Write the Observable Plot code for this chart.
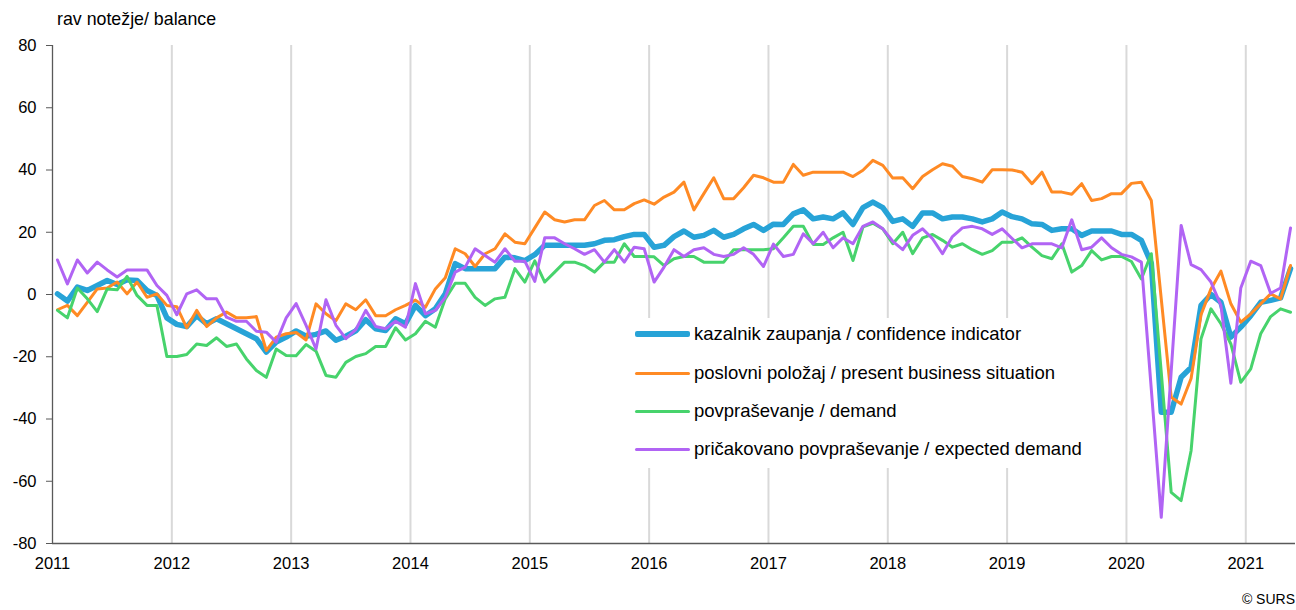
<!DOCTYPE html>
<html>
<head>
<meta charset="utf-8">
<script src="https://cdn.jsdelivr.net/npm/d3@7"></script>
<script src="https://cdn.jsdelivr.net/npm/@observablehq/plot@0.6"></script>
<style>
  body { margin: 0; background: #fff; font-family: "Liberation Sans", Arial, sans-serif; }
  #wrap { position: relative; width: 1296px; height: 610px; overflow: hidden; }
  #chart { position: absolute; left: 0; top: 0; }
  #ylab { position: absolute; left: 57px; top: 9px; font-size: 17.8px; color: #000; white-space: nowrap; }
  #credit { position: absolute; right: 1px; top: 591px; font-size: 14px; color: #000; }
  #legend { position: absolute; left: 628px; top: 318px; width: 466px; height: 150px; background: #fff; }
  .item { position: absolute; left: 0; height: 20px; white-space: nowrap; font-size: 18.5px; color: #000; }
  .sw { position: absolute; left: 7px; width: 55px; border-radius: 2px; }
  .lt { position: absolute; left: 66px; top: 0; line-height: 20px; }
</style>
</head>
<body>
<div id="wrap">
  <div id="chart"></div>
  <div id="ylab">rav notežje/ balance</div>
  <div id="legend"></div>
  <div id="credit">© SURS</div>
</div>
<script>
// ---- data (monthly, Jan 2011 – May 2021) ----
const years = [2011, 2012, 2013, 2014, 2015, 2016, 2017, 2018, 2019, 2020, 2021];
const yTicks = [-80, -60, -40, -20, 0, 20, 40, 60, 80];
const seriesNames = [
  "kazalnik zaupanja / confidence indicator",
  "poslovni položaj / present business situation",
  "povpraševanje / demand",
  "pričakovano povpraševanje / expected demand"
];
const seriesColors = ["#27A3D7", "#FF8A24", "#47D36C", "#B164F4"];

const confidence = [
  0.2, -2.1, 2.4, 1.3, 2.9, 4.5, 3.2, 4.7, 4.5, 1.3, -0.3, -7.5,
  -9.6, -10.3, -6.8, -9.4, -7.8, -9.4, -11.0, -12.6, -14.2, -18.5, -15.3, -13.7,
  -11.7, -13.4, -12.8, -11.7, -14.7, -13.4, -11.7, -8.1, -11.0, -11.6, -7.8, -9.4,
  -3.5, -6.8, -4.6, 0.2, 9.9, 8.3, 8.3, 8.3, 8.3, 12.0, 11.8, 10.9,
  12.8, 15.8, 15.8, 15.8, 15.8, 15.8, 16.3, 17.4, 17.6, 18.6, 19.3, 19.3,
  15.2, 15.8, 18.6, 20.4, 18.4, 19.0, 20.6, 18.4, 19.3, 21.1, 22.5, 20.6,
  22.6, 22.5, 25.9, 27.2, 24.3, 24.9, 24.3, 26.2, 22.5, 27.9, 29.7, 27.9,
  23.5, 24.3, 21.9, 26.2, 26.2, 24.3, 24.9, 24.9, 24.3, 23.3, 24.3, 26.5,
  25.0, 24.3, 22.7, 22.5, 20.6, 21.1, 21.1, 19.0, 20.4, 20.4, 20.4, 19.3,
  19.3, 17.4, 10.0, -37.8, -37.8, -26.6, -23.4, -3.5, 0.0, -2.5, -13.7, -10.5,
  -6.8, -2.5, -1.9, -1.1, 8.3
];
const business = [
  -4.9, -3.5, -6.8, -2.5, 1.8, 2.1, 4.0, 0.2, 4.0, -0.9, 0.2, -3.5,
  -3.9, -10.7, -5.1, -10.3, -7.5, -5.6, -7.5, -7.5, -7.1, -18.0, -13.7, -12.6,
  -12.2, -14.6, -3.0, -6.2, -8.4, -3.0, -4.9, -1.7, -6.8, -6.8, -4.9, -3.5,
  -1.8, -4.1, 1.8, 5.4, 14.7, 13.1, 9.0, 13.1, 14.7, 19.5, 16.8, 16.3,
  21.4, 26.5, 24.0, 23.3, 24.0, 24.0, 28.6, 30.2, 27.2, 27.2, 29.2, 30.4,
  29.0, 31.3, 32.9, 36.1, 27.2, 32.4, 37.5, 30.8, 30.8, 34.3, 38.3, 37.5,
  36.1, 36.1, 41.8, 38.3, 39.3, 39.3, 39.3, 39.3, 37.9, 39.9, 43.1, 41.5,
  37.4, 37.5, 34.0, 37.9, 40.1, 42.0, 41.2, 37.9, 37.2, 36.1, 40.1, 40.1,
  40.0, 39.3, 35.6, 39.3, 32.9, 32.9, 32.2, 35.6, 30.2, 30.8, 32.4, 32.4,
  35.7, 36.1, 30.2, -1.4, -33.0, -35.2, -27.0, -6.5, 1.8, 7.5, -3.0, -8.9,
  -6.2, -3.0, 0.2, -1.4, 9.3
];
const demand = [
  -5.1, -7.5, 2.1, -1.4, -5.5, 1.8, 1.5, 5.8, -0.3, -3.5, -3.5, -19.9,
  -19.9, -19.3, -15.9, -16.4, -13.9, -16.7, -15.9, -20.7, -24.4, -26.6, -17.5, -19.6,
  -19.7, -16.1, -18.2, -26.0, -26.6, -21.8, -19.9, -19.0, -16.7, -16.7, -10.7, -14.6,
  -12.6, -8.6, -10.5, -1.4, 3.6, 3.6, -0.9, -3.5, -1.4, -0.9, 8.3, 4.0,
  10.8, 4.0, 7.2, 10.4, 10.4, 9.3, 7.2, 10.4, 10.4, 16.3, 12.2, 12.2,
  12.1, 9.3, 11.5, 12.2, 12.2, 10.4, 10.4, 10.4, 14.4, 14.4, 14.4, 14.4,
  14.7, 18.2, 21.9, 21.9, 16.1, 16.1, 18.2, 20.0, 10.9, 21.7, 22.9, 21.1,
  16.3, 20.0, 13.1, 18.2, 19.3, 17.4, 15.2, 16.3, 14.4, 12.9, 14.1, 16.8,
  16.8, 18.2, 15.2, 12.5, 11.5, 16.3, 7.2, 9.3, 14.1, 11.1, 12.2, 12.2,
  10.6, 5.0, 13.1, -25.0, -63.6, -66.2, -50.2, -14.2, -4.6, -9.4, -15.9, -28.2,
  -23.9, -12.6, -7.1, -4.6, -5.7
];
const expected = [
  11.1, 3.4, 11.1, 6.9, 10.4, 7.9, 5.6, 7.9, 7.9, 7.9, 2.9, -0.3,
  -6.5, 0.2, 1.5, -1.4, -1.4, -7.3, -8.6, -8.6, -11.8, -12.1, -15.3, -7.5,
  -2.9, -9.9, -17.5, -1.7, -9.9, -14.2, -11.3, -5.1, -10.3, -11.0, -8.6, -10.5,
  3.5, -6.2, -5.1, -0.9, 7.2, 8.8, 14.7, 12.5, 10.4, 14.7, 10.7, 10.7,
  4.2, 18.2, 18.2, 16.3, 14.7, 12.9, 14.4, 10.4, 14.4, 10.4, 15.2, 14.7,
  4.0, 8.8, 14.4, 12.2, 14.4, 15.0, 12.9, 12.2, 12.9, 15.0, 12.9, 9.0,
  16.2, 12.2, 12.9, 19.5, 16.3, 20.0, 15.0, 18.2, 16.3, 21.9, 23.3, 21.1,
  17.1, 14.4, 19.0, 21.1, 17.9, 13.1, 18.6, 21.4, 21.9, 21.1, 19.3, 21.1,
  18.0, 15.0, 16.3, 16.3, 16.3, 15.0, 24.0, 14.4, 15.2, 18.2, 15.0, 12.9,
  12.1, 10.4, -30.5, -71.6, -24.6, 22.2, 9.6, 8.0, 4.0, -3.5, -28.5, 2.1,
  10.7, 9.3, 0.4, 2.1, 21.4
];

const allSeries = [confidence, business, demand, expected];
const widths = [5.5, 3, 3, 3];
const N = confidence.length;
const yearIdx = years.map((y, k) => k * 12);

// month index i is drawn at the centre of its category slot
const toRows = (vals, s) => vals.map((v, i) => ({ i: i + 0.5, v, s }));

const chart = Plot.plot({
  width: 1296,
  height: 585,
  marginLeft: 52,
  marginRight: 1,
  marginTop: 45,
  marginBottom: 42,
  style: { fontFamily: "'Liberation Sans', Arial, sans-serif", fontSize: "16px", color: "#000", background: "#fff" },
  x: { domain: [0, N], label: null },
  y: { domain: [-80, 80], label: null },
  marks: [
    Plot.ruleX(yearIdx.slice(1), { stroke: "#d9d9d9", strokeWidth: 2 }),
    Plot.ruleY([-80], { stroke: "#595959", strokeWidth: 1.3 }),
    Plot.ruleX([0], { stroke: "#595959", strokeWidth: 1.3 }),
    Plot.axisY({ ticks: yTicks, tickSize: 6, tickPadding: 10, stroke: "#595959", fontSize: 16.5, tickFormat: d => String(d) }),
    Plot.axisX({ ticks: yearIdx, tickSize: 0, tickPadding: 14, fontSize: 16.5, tickFormat: d => String(years[d / 12]) }),
    ...allSeries.map((vals, s) => Plot.line(toRows(vals, s), {
      x: "i", y: "v",
      stroke: seriesColors[s], strokeWidth: widths[s],
      strokeLinejoin: "round", strokeLinecap: "round"
    }))
  ]
});
document.getElementById("chart").appendChild(chart);

// legend
const legend = document.getElementById("legend");
const rowTop = [6, 45, 83, 121];
seriesNames.forEach((name, s) => {
  const item = document.createElement("div");
  item.className = "item";
  item.style.top = rowTop[s] + "px";
  const sw = document.createElement("div");
  sw.className = "sw";
  sw.style.background = seriesColors[s];
  sw.style.height = widths[s] + "px";
  sw.style.top = (10 - widths[s] / 2) + "px";
  const lt = document.createElement("span");
  lt.className = "lt";
  lt.textContent = name;
  item.appendChild(sw);
  item.appendChild(lt);
  legend.appendChild(item);
});
</script>
</body>
</html>
